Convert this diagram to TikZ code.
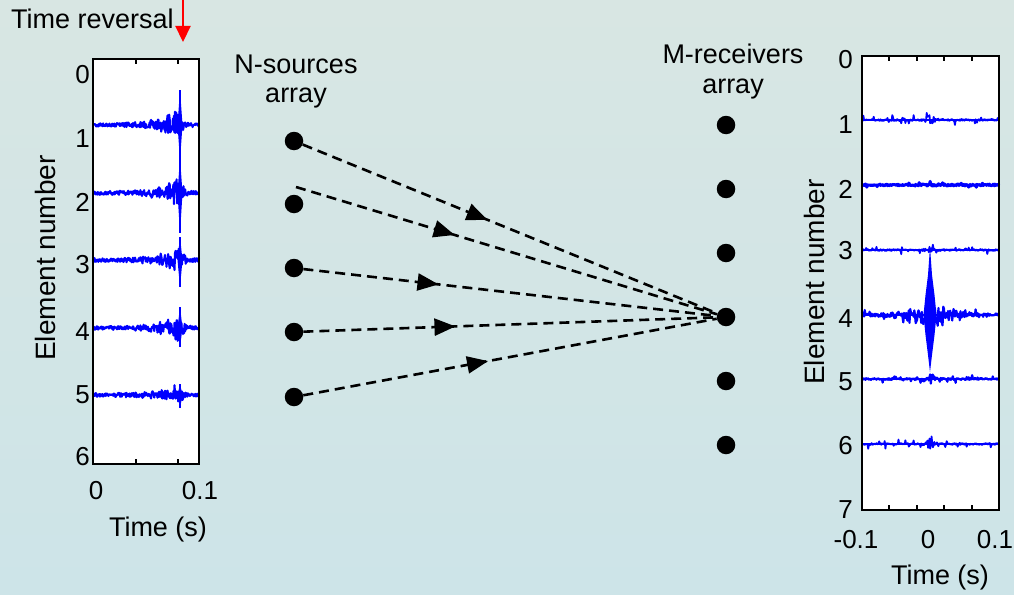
\documentclass[tikz,border=0pt]{standalone}
\usepackage{fontspec}
\setmainfont{Liberation Sans}
\usetikzlibrary{arrows.meta,decorations.markings}

\definecolor{bgtop}{RGB}{216,230,227}
\definecolor{bgbot}{RGB}{205,228,232}
\definecolor{sig}{RGB}{0,0,255}
\definecolor{revred}{RGB}{255,0,0}

\begin{document}
\begin{tikzpicture}[x=1pt,y=-1pt,
  declare function={
    lenv(\x,\a)=1.8+\a*exp(-abs(\x-179)/((\x<179)?16:3.5))*(0.3+0.7*abs(sin(22*\x)));
    renv(\x,\c,\w)=0.9+\c*exp(-abs(\x-930)/\w);
  },
  lbl/.style={font=\fontsize{27}{29}\selectfont, inner sep=0pt},
  axlbl/.style={font=\fontsize{28}{30}\selectfont, inner sep=0pt},
  ticklbl/.style={font=\fontsize{26}{28}\selectfont, inner sep=0pt},
  frame/.style={draw=black, line width=1.4pt},
  tickmark/.style={draw=black, line width=1.2pt},
  dot/.style={circle, fill=black, minimum size=18.5pt, inner sep=0pt},
  wave/.style={draw=sig, line width=2.1pt, line join=round},
  ray/.style={draw=black, line width=2.6pt, dash pattern=on 10pt off 6pt,
    decoration={markings, mark=at position #1 with {\arrow{Triangle[length=21pt,width=17pt]}}},
    postaction={decorate}}
]
\useasboundingbox (0,0) rectangle (1014,594);
\shade[top color=bgtop, bottom color=bgbot] (0,0) rectangle (1014,594);

% ---- time-reversal marker ----
\node[lbl, anchor=base west] (trlabel) at (11,29) {Time reversal};
\coordinate (trtop) at (183,0);
\coordinate (trtip) at (183,42);
\draw[revred, line width=2.2pt, -{Triangle[length=16pt,width=15pt]}] (trtop) -- (trtip);

% ---- left panel: recorded signals ----
\fill[white] (93,59) rectangle (199,464);
\foreach \yy/\aa/\st/\sb/\sd in {125/19/90/160/1, 193/19/158/233/2, 260/16/237/287/3, 328/15/307/347/4, 395/13/384/408/5} {
  \pgfmathsetseed{\sd*11}
  \draw[wave] plot[domain=93:199, samples=200, variable=\t] (\t, {\yy + lenv(\t,\aa)*rand});
  \fill[sig] (180,\st) -- (182.5,\yy) -- (180,\sb) -- (177.5,\yy) -- cycle;
  \draw[sig, line width=2.6pt] (180,\st) -- (180,\sb);
}
\draw[frame] (93,59) rectangle (199,464);
\foreach \xx in {136,178} {
  \draw[tickmark] (\xx,59) -- (\xx,64);
  \draw[tickmark] (\xx,464) -- (\xx,459);
}
\foreach \v/\yy in {0/75,1/139,2/202,3/265,4/332,5/395,6/457}
  \node[ticklbl, anchor=east] (ly\v) at (90,\yy) {\v};
\node[ticklbl] (lx0) at (96,491) {0};
\node[ticklbl] (lx1) at (200,491) {0.1};
\node[lbl] (lxt) at (158,530) {Time (s)};
\node[axlbl, rotate=90] (lyt) at (45,258) {Element number};

% ---- right panel: refocused signals ----
\fill[white] (862,56) rectangle (999,510);
\foreach \yy/\cc/\ww/\bb/\sd/\lw in {120/6/3/4.5/21/1.8, 185/1/5/1.8/22/3.0, 250/3/3/3.5/23/1.8, 315/15/20/3.5/24/2.2, 379/6/3/3/25/2.2, 444/8/3/4/26/1.8} {
  \pgfmathsetseed{\sd*7}
  \draw[sig, line width=1.4pt] (862,\yy) -- (999,\yy);
  \draw[wave, line width=\lw pt] plot[domain=862:999, samples=200, variable=\t] (\t, {\yy + rand*(renv(\t,\cc,\ww) + \bb*(rnd>0.86))});
}
\fill[sig] (930,247) -- (932,275) -- (934.5,295) -- (936.5,315) -- (934.5,335) -- (932,355) -- (930,372)
  -- (928,355) -- (925.5,335) -- (923.5,315) -- (925.5,295) -- (928,275) -- cycle;
\draw[frame] (862,56) rectangle (999,510);
\draw[black, line width=2.4pt] (862,510) -- (999,510);
\foreach \xx in {889,917,944,972} {
  \draw[tickmark] (\xx,56) -- (\xx,61);
  \draw[tickmark] (\xx,510) -- (\xx,505);
}
\foreach \v/\yy in {0/60,1/124.5,2/189.5,3/251,4/319,5/382,6/446,7/510}
  \node[ticklbl, anchor=east] (ry\v) at (853,\yy) {\v};
\node[ticklbl] (rx0) at (856,540) {-0.1};
\node[ticklbl] (rx1) at (928,540) {0};
\node[ticklbl] (rx2) at (995,540) {0.1};
\node[lbl] (rxt) at (940,578) {Time (s)};
\node[axlbl, rotate=90] (ryt) at (814,282) {Element number};

% ---- arrays ----
\node[lbl, align=center] (srclbl) at (296,82) {N-sources\\array};
\node[lbl, align=center] (rcvlbl) at (733,71.5) {M-receivers\\[1pt]array};
\foreach \i/\yy in {1/141,2/204,3/268,4/332,5/397}
  \node[dot] (s\i) at (294,\yy) {};
\foreach \i/\yy in {1/125,2/189,3/253,4/317,5/381,6/445}
  \node[dot] (r\i) at (726,\yy) {};

% ---- propagation paths ----
\coordinate (c2) at (296,187);
\draw[ray=0.446] (s1) -- (r4);
\draw[ray=0.377] (c2) -- (r4);
\draw[ray=0.327] (s3) -- (r4);
\draw[ray=0.368] (s4) -- (r4);
\draw[ray=0.447] (s5) -- (r4);
\end{tikzpicture}
\end{document}
